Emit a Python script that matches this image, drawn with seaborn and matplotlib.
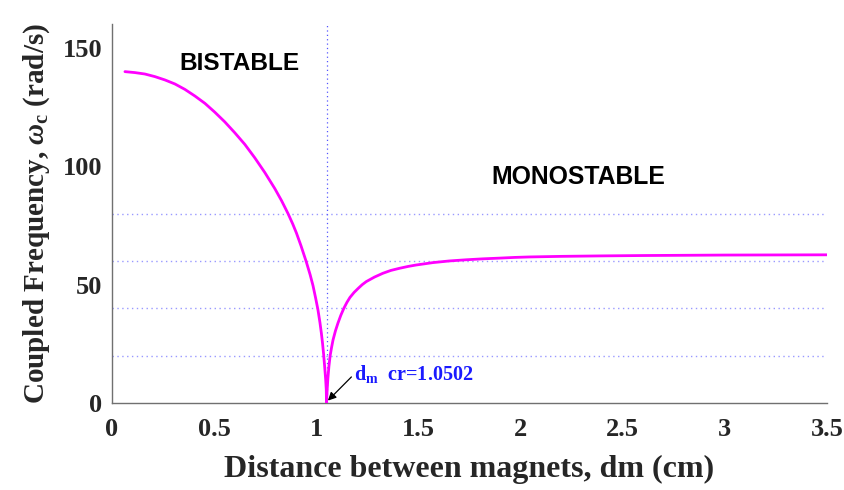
import numpy as np
import pandas as pd
import matplotlib
matplotlib.use("Agg")
import matplotlib.pyplot as plt
import seaborn as sns

# ---- data ----
d_left = [0.0635, 0.112, 0.161, 0.210, 0.259, 0.308, 0.357, 0.406, 0.455, 0.503,
          0.552, 0.601, 0.650, 0.699, 0.748, 0.797, 0.830, 0.862, 0.885, 0.903,
          0.925, 0.951, 0.970, 0.984, 0.997, 1.008, 1.018, 1.025, 1.031, 1.036,
          1.041, 1.046, 1.049, 1.0502]
w_left = [140.0, 139.6, 139.0, 137.9, 136.5, 134.8, 132.5, 129.7, 126.6, 122.9,
          118.8, 114.2, 109.3, 103.6, 97.4, 90.6, 85.5, 80.0, 75.6, 71.8,
          66.5, 59.7, 54.2, 49.6, 44.3, 39.5, 34.0, 29.5, 25.0, 20.6,
          15.5, 10.0, 5.5, 0.0]
d_right = [1.0502, 1.053, 1.057, 1.062, 1.068, 1.075, 1.082, 1.094, 1.106, 1.120,
           1.135, 1.150, 1.165, 1.185, 1.205, 1.225, 1.245, 1.285, 1.326, 1.365,
           1.407, 1.450, 1.489, 1.530, 1.570, 1.650, 1.733, 1.815, 1.896, 1.970,
           2.043, 2.20, 2.40, 2.60, 2.80, 3.00, 3.25, 3.50]
w_right = [0.0, 5.0, 10.5, 15.5, 20.0, 23.5, 26.6, 30.5, 33.7, 37.0,
           40.0, 42.5, 44.6, 46.7, 48.4, 50.0, 51.3, 53.2, 54.8, 56.0,
           56.9, 57.7, 58.3, 58.8, 59.3, 60.0, 60.5, 60.9, 61.2, 61.5,
           61.7, 61.95, 62.15, 62.3, 62.4, 62.5, 62.55, 62.6]
d_cr = 1.0502
ref_levels = [20, 40, 60, 80]
x_ticks = [0, 0.5, 1, 1.5, 2, 2.5, 3, 3.5]
x_tick_labels = ["0", "0.5", "1", "1.5", "2", "2.5", "3", "3.5"]
y_ticks = [0, 50, 100, 150]
y_tick_labels = ["0", "50", "100", "150"]

df = pd.DataFrame({"d": d_left + d_right[1:], "w": w_left + w_right[1:]})

sns.set_style("white")
plt.rcParams["font.family"] = ["Liberation Serif", "DejaVu Serif"]
plt.rcParams["mathtext.fontset"] = "custom"
plt.rcParams["mathtext.rm"] = "Liberation Serif:bold"
plt.rcParams["mathtext.bf"] = "Liberation Serif:bold"
plt.rcParams["mathtext.it"] = "Liberation Serif:italic:bold"

fig = plt.figure(figsize=(8.45, 4.9), dpi=100)
ax = fig.add_axes([0.1325, 0.1776, 0.8462, 0.7728])

for lv in ref_levels:
    ax.axhline(lv, color="#9999ff", lw=1.0, ls=(0, (1, 2.5)), zorder=1)
ax.axvline(d_cr, color="#5555ff", lw=0.9, ls=(0, (1, 2.5)), zorder=1)

sns.lineplot(data=df, x="d", y="w", sort=False, estimator=None, color="#ff00ff",
             lw=2.0, ax=ax, zorder=3)

ax.set_xlim(0, 3.5)
ax.set_ylim(0, 160)
ax.set_xticks(x_ticks)
ax.set_xticklabels(x_tick_labels)
ax.set_yticks(y_ticks)
ax.set_yticklabels(y_tick_labels)

for s in ["top", "right"]:
    ax.spines[s].set_visible(False)
for s in ["left", "bottom"]:
    ax.spines[s].set_color("#707070")
    ax.spines[s].set_linewidth(1.0)
ax.tick_params(direction="in", length=5, width=1.0, color="#707070",
               labelsize=19, labelcolor="#262626")
ax.tick_params(axis="x", pad=11)
ax.tick_params(axis="y", pad=7)
for lab in ax.get_xticklabels() + ax.get_yticklabels():
    lab.set_fontweight("bold")

ax.set_xlabel("Distance between magnets, dm (cm)", fontsize=23, fontweight="bold",
              color="#262626", labelpad=10)
ax.set_ylabel(r"Coupled Frequency, $\omega_{\mathbf{c}}$ (rad/s)", fontsize=21,
              fontweight="bold", color="#262626", labelpad=8)

ax.text(0.626, 143.6, "BISTABLE", family=["Liberation Sans"], fontweight="bold",
        fontsize=17.6, ha="center", va="center", color="black")
ax.text(2.283, 95.5, "MONOSTABLE", family=["Liberation Sans"], fontweight="bold",
        fontsize=17.8, ha="center", va="center", color="black")

ax.annotate("", xy=(1.057, 1.0), xytext=(1.172, 11.0),
            arrowprops=dict(arrowstyle="-|>", color="black", lw=0.9,
                            mutation_scale=12, shrinkA=0, shrinkB=0))
ax.text(1.185, 9.7, r"d$_{\mathbf{m}}$  cr=1.0502", fontsize=14.5, fontweight="bold",
        color="#1a1aff", ha="left", va="baseline")

fig.savefig("out.png", dpi=100)
